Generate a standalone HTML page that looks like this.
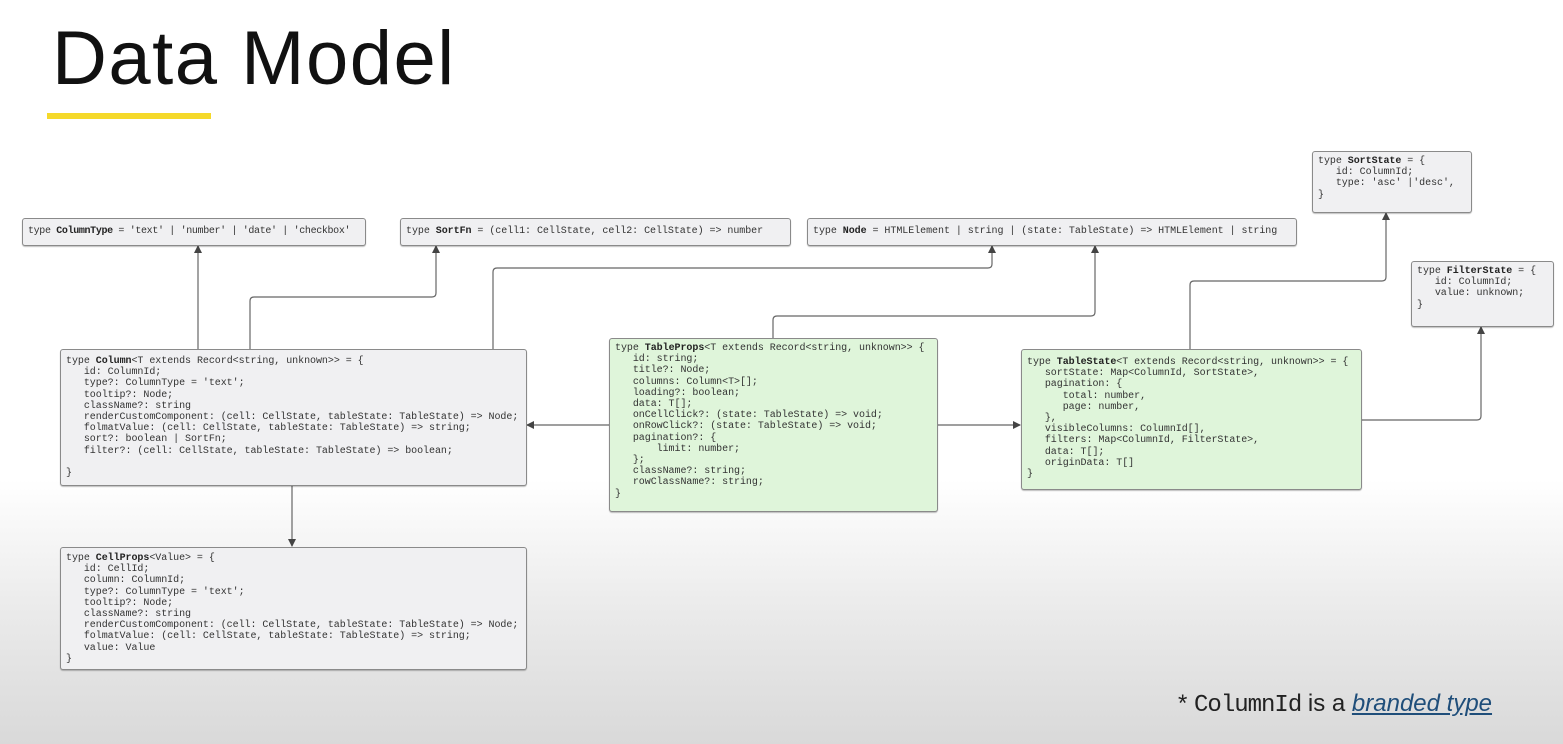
<!DOCTYPE html>
<html><head><meta charset="utf-8"><style>
html,body{margin:0;padding:0}
body{width:1563px;height:744px;position:relative;overflow:hidden;
background:linear-gradient(to bottom,#fff 0px,#fff 480px,#ececec 600px,#d9d9d9 744px);
font-family:"Liberation Sans",sans-serif}
.t{position:absolute;left:52px;top:20px;font-size:76px;line-height:78px;letter-spacing:1.5px;color:#111}
.bar{position:absolute;left:47px;top:113px;width:164px;height:6px;background:#f5d92a}
.b{position:absolute;box-sizing:border-box;border:1.5px solid #8a8a8a;border-radius:3px;background:#f0f0f2;
font-family:"Liberation Mono",monospace;font-size:10px;line-height:11.2px;color:#333;white-space:pre;padding:4px 5px;
box-shadow:0 1px 1px rgba(0,0,0,.25);letter-spacing:-0.05px}
.g{background:#dff5da}
.b b{color:#222}
.one{padding-top:7px}
svg{position:absolute;left:0;top:0}
.fn{position:absolute;left:1178px;top:690px;font-size:24px;color:#222}
.fn span{font-family:"Liberation Mono",monospace;letter-spacing:-1px}
.fn a{color:#1f4e7a;font-style:italic;text-decoration:underline}
</style></head><body>
<div class="t">Data Model</div>
<div class="bar"></div>
<svg width="1563" height="744">
<defs><marker id="a" markerWidth="8" markerHeight="8" refX="7" refY="4" orient="auto" markerUnits="userSpaceOnUse"><path d="M0,0 L8,4 L0,8z" fill="#444"/></marker></defs>
<g stroke="#666" stroke-width="1.2" fill="none" marker-end="url(#a)">
<path d="M198,349 V246"/>
<path d="M250,349 V301 Q250,297 254,297 H432 Q436,297 436,293 V246"/>
<path d="M493,349 V272 Q493,268 497,268 H988 Q992,268 992,264 V246"/>
<path d="M773,338 V320 Q773,316 777,316 H1091 Q1095,316 1095,312 V246"/>
<path d="M609,425 H527"/>
<path d="M937,425 H1020"/>
<path d="M292,485 V546"/>
<path d="M1190,349 V285 Q1190,281 1194,281 H1382 Q1386,281 1386,277 V213"/>
<path d="M1361,420 H1477 Q1481,420 1481,416 V327"/>
</g></svg>
<div class="b one" style="left:22px;top:218px;width:344px;height:28px;letter-spacing:-0.35px">type <b>ColumnType</b> = 'text' | 'number' | 'date' | 'checkbox'</div>
<div class="b one" style="left:400px;top:218px;width:391px;height:28px">type <b>SortFn</b> = (cell1: CellState, cell2: CellState) =&gt; number</div>
<div class="b one" style="left:807px;top:218px;width:490px;height:28px">type <b>Node</b> = HTMLElement | string | (state: TableState) =&gt; HTMLElement | string</div>
<div class="b" style="left:1312px;top:151px;width:160px;height:62px">type <b>SortState</b> = {
   id: ColumnId;
   type: 'asc' |'desc',
}</div>
<div class="b" style="left:1411px;top:261px;width:143px;height:66px">type <b>FilterState</b> = {
   id: ColumnId;
   value: unknown;
}</div>
<div class="b" style="left:60px;top:349px;width:467px;height:137px;padding-top:6px">type <b>Column</b>&lt;T extends Record&lt;string, unknown&gt;&gt; = {
   id: ColumnId;
   type?: ColumnType = 'text';
   tooltip?: Node;
   className?: string
   renderCustomComponent: (cell: CellState, tableState: TableState) =&gt; Node;
   folmatValue: (cell: CellState, tableState: TableState) =&gt; string;
   sort?: boolean | SortFn;
   filter?: (cell: CellState, tableState: TableState) =&gt; boolean;

}</div>
<div class="b g" style="left:609px;top:338px;width:329px;height:174px">type <b>TableProps</b>&lt;T extends Record&lt;string, unknown&gt;&gt; {
   id: string;
   title?: Node;
   columns: Column&lt;T&gt;[];
   loading?: boolean;
   data: T[];
   onCellClick?: (state: TableState) =&gt; void;
   onRowClick?: (state: TableState) =&gt; void;
   pagination?: {
       limit: number;
   };
   className?: string;
   rowClassName?: string;
}</div>
<div class="b g" style="left:1021px;top:349px;width:341px;height:141px;padding-top:7px">type <b>TableState</b>&lt;T extends Record&lt;string, unknown&gt;&gt; = {
   sortState: Map&lt;ColumnId, SortState&gt;,
   pagination: {
      total: number,
      page: number,
   },
   visibleColumns: ColumnId[],
   filters: Map&lt;ColumnId, FilterState&gt;,
   data: T[];
   originData: T[]
}</div>
<div class="b" style="left:60px;top:547px;width:467px;height:123px;padding-top:5px">type <b>CellProps</b>&lt;Value&gt; = {
   id: CellId;
   column: ColumnId;
   type?: ColumnType = 'text';
   tooltip?: Node;
   className?: string
   renderCustomComponent: (cell: CellState, tableState: TableState) =&gt; Node;
   folmatValue: (cell: CellState, tableState: TableState) =&gt; string;
   value: Value
}</div>
<div class="fn">* <span>ColumnId</span> is a <a>branded type</a></div>
</body></html>
